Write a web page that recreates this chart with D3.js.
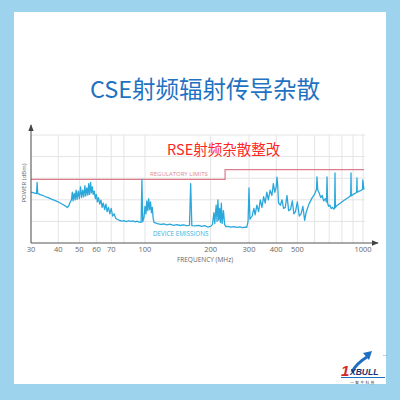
<!DOCTYPE html>
<html>
<head>
<meta charset="utf-8">
<script src="https://cdn.jsdelivr.net/npm/d3@7"></script>
<style>
  body { margin: 0; background: #9ed3ee; }
  svg { display: block; }
</style>
</head>
<body>
<script>
// emission trace: frequency (MHz) / power (dBm)
const emFreq = [30, 31, 31.8, 32, 32.2, 33, 34, 35, 36, 37, 38, 39, 40, 41, 42, 43, 44, 44.6, 45.2,
  46, 46.4, 46.8, 47.3, 47.8, 48.3, 48.8, 49.4, 50, 50.6, 51.2, 51.8, 52.4, 53, 53.5, 54.1, 54.7, 55.2, 55.7, 56.3, 56.8, 57.3, 57.9, 58.5,
  59.2, 59.8, 60.5, 61.2, 62, 62.8, 63.6, 64.4, 65.3, 66.2, 67, 68, 69, 70, 71, 72.2, 73.4, 74.6,
  76, 78, 80, 82, 84, 86, 88, 90, 92, 94, 96, 96.8, 97.6,
  99, 100, 101, 102, 103, 104, 105, 106, 107, 108, 109, 110,
  114, 118, 122, 126, 130, 135, 140, 145, 150, 155, 160, 162, 164, 170, 176, 182, 188, 194,
  200, 204, 207, 209, 212, 214, 216, 218, 220, 222, 224, 226, 229, 232, 235,
  240, 248, 256, 264, 272, 280, 288, 293,
  297, 300, 303, 310, 316, 320, 326, 332, 338, 344, 350, 356, 362, 368, 375, 382, 388, 394, 400, 403, 406,
  410, 418, 425, 432, 440, 448, 456, 465, 474, 482, 490, 500, 510, 520, 530, 540, 548,
  556, 565, 575, 585, 595, 605, 612, 615, 620,
  630, 640, 650, 660, 672, 680, 684, 688, 695, 705, 715, 725, 735, 741, 744, 747,
  760, 780, 800, 820, 840, 860, 878, 881, 884, 900, 920, 935, 938, 941, 960, 980, 995, 998, 1010];
const emPower = [-76.4, -76.8, -77.2, -72.0, -77.0, -77.6, -78.0, -78.6, -79.0, -79.6, -80.0, -80.5, -81.0, -81.6, -82.2, -82.8, -83.6, -83.0, -81.5,
  -80.0, -76.5, -80.5, -77.0, -80.0, -75.5, -79.8, -76.0, -79.5, -74.0, -79.0, -75.5, -78.6, -73.5, -78.2, -74.5, -77.8, -72.5, -77.5, -72.0, -76.8, -74.0, -77.5, -76.0,
  -79.5, -77.5, -81.0, -79.0, -82.0, -80.2, -83.5, -81.5, -84.5, -82.0, -85.5, -83.5, -86.5, -84.0, -87.5, -86.5, -88.5, -89.0,
  -89.4, -89.9, -89.6, -90.1, -89.7, -90.0, -89.8, -90.2, -89.9, -90.3, -90.4, -70.5, -90.2,
  -88.0, -83.0, -86.5, -80.5, -85.0, -79.5, -84.5, -81.0, -86.0, -83.5, -88.5, -90.5,
  -91.0, -91.4, -91.2, -91.6, -91.3, -91.8, -91.5, -91.9, -91.6, -92.0, -91.8, -72.5, -92.0, -92.1, -91.8, -92.3, -92.0, -92.6,
  -92.3, -91.5, -86.0, -91.0, -82.5, -90.0, -80.0, -89.5, -84.0, -90.5, -81.5, -91.0, -85.0, -91.5, -92.4,
  -92.3, -92.7, -92.4, -92.8, -92.5, -92.9, -92.6, -92.8,
  -90.0, -74.5, -89.0, -87.5, -84.0, -87.0, -82.5, -85.5, -80.0, -83.5, -78.5, -81.5, -76.5, -80.0, -75.5, -78.0, -72.5, -76.5, -74.0, -69.5, -73.0,
  -81.5, -82.5, -80.0, -84.0, -83.5, -78.0, -85.0, -84.5, -80.5, -86.5, -85.5, -81.0, -87.5, -86.5, -83.0, -89.5, -86.0,
  -84.0, -82.0, -80.5, -79.0, -78.0, -76.5, -75.0, -69.4, -75.5,
  -77.0, -79.0, -78.0, -80.5, -79.5, -81.0, -69.4, -81.5, -83.0, -82.5, -84.0, -83.5, -84.3, -83.8, -67.6, -83.6,
  -82.6, -81.8, -81.0, -80.2, -79.5, -78.8, -78.0, -67.6, -78.2, -77.5, -77.0, -76.6, -69.9, -76.5, -76.0, -75.6, -75.2, -70.8, -75.3, -74.8];

// regulatory limit (step)
const limFreq = [30, 233, 233, 1010];
const limPower = [-70.5, -70.5, -66, -66];

const xTicks = [30, 40, 50, 60, 70, 100, 200, 300, 400, 500, 1000];
const xGrid = [30, 40, 50, 60, 70, 80, 100, 200, 300, 400, 500, 600, 700, 800, 900, 1000];
const yGrid = [-90, -80, -70, -60, -50];

const W = 400, H = 400;
const svg = d3.select('body').append('svg').attr('width', W).attr('height', H);

// white card
svg.append('rect').attr('x', 14).attr('y', 12).attr('width', 372).attr('height', 372).attr('fill', '#fff');

svg.append('text')
  .attr('x', 205).attr('y', 98)
  .attr('text-anchor', 'middle')
  .attr('font-family', '"Noto Sans CJK SC", "Open Sans", sans-serif')
  .attr('font-size', 23.5)
  .attr('fill', '#1f72c2')
  .text('CSE射频辐射传导杂散');

const x = d3.scaleLog().domain([30, 1000]).range([31, 363]);
const y = d3.scaleLinear().domain([-100, -50]).range([243, 135]);

// grid
svg.append('g').selectAll('line').data(xGrid).enter().append('line')
  .attr('x1', d => x(d)).attr('x2', d => x(d))
  .attr('y1', 135).attr('y2', 243)
  .attr('stroke', '#e4e4e4').attr('stroke-width', 1);
svg.append('g').selectAll('line').data(yGrid).enter().append('line')
  .attr('x1', 31).attr('x2', 365)
  .attr('y1', d => y(d)).attr('y2', d => y(d))
  .attr('stroke', '#e4e4e4').attr('stroke-width', 1);

// limit line
const limLine = d3.line().x(d => x(d[0])).y(d => y(d[1]));
svg.append('path')
  .attr('d', limLine(d3.zip(limFreq, limPower)))
  .attr('fill', 'none').attr('stroke', '#dd7d8c').attr('stroke-width', 1.2);

// emissions
const emLine = d3.line().x(d => x(d[0])).y(d => y(d[1]));
svg.append('path')
  .attr('d', emLine(d3.zip(emFreq, emPower)))
  .attr('fill', 'none').attr('stroke', '#2aa8dc').attr('stroke-width', 1.3)
  .attr('stroke-linejoin', 'round');

// axes with arrows
svg.append('defs').append('marker')
  .attr('id', 'arr').attr('viewBox', '0 0 10 10').attr('refX', 9).attr('refY', 5)
  .attr('markerWidth', 7).attr('markerHeight', 7).attr('orient', 'auto')
  .append('path').attr('d', 'M0,1 L10,5 L0,9 Z').attr('fill', '#444');
svg.append('line').attr('x1', 31).attr('y1', 243).attr('x2', 31).attr('y2', 125)
  .attr('stroke', '#555').attr('stroke-width', 1).attr('marker-end', 'url(#arr)');
svg.append('line').attr('x1', 31).attr('y1', 243).attr('x2', 378).attr('y2', 243)
  .attr('stroke', '#555').attr('stroke-width', 1).attr('marker-end', 'url(#arr)');

const font = '"Open Sans", "Noto Sans", sans-serif';
svg.append('g').selectAll('text').data(xTicks).enter().append('text')
  .attr('x', d => x(d)).attr('y', 252)
  .attr('text-anchor', 'middle')
  .attr('font-family', font).attr('font-size', 7.5).attr('fill', '#666')
  .text(d => d);

svg.append('text').attr('x', 205).attr('y', 262).attr('text-anchor', 'middle')
  .attr('font-family', font).attr('font-size', 6.5).attr('fill', '#666')
  .text('FREQUENCY (MHz)');
svg.append('text').attr('transform', 'translate(26,183) rotate(-90)').attr('text-anchor', 'middle')
  .attr('font-family', font).attr('font-size', 6).attr('fill', '#666')
  .text('POWER (dBm)');

svg.append('text').attr('x', 150).attr('y', 176)
  .attr('font-family', font).attr('font-size', 6).attr('fill', '#d98a96')
  .text('REGULATORY LIMITS');
svg.append('text').attr('x', 153).attr('y', 236)
  .attr('font-family', font).attr('font-size', 6.3).attr('fill', '#3cb0da')
  .text('DEVICE EMISSIONS');

svg.append('text').attr('x', 167).attr('y', 155)
  .attr('font-family', '"Noto Sans CJK SC", sans-serif').attr('font-size', 14.5).attr('fill', '#ff2626')
  .text('RSE射频杂散整改');

// logo
const logo = svg.append('g');
logo.append('path').attr('d', 'M352,372 C356,364 362,360 367,357')
  .attr('fill', 'none').attr('stroke', '#1e6fc0').attr('stroke-width', 3);
logo.append('path').attr('d', 'M363,353 L372,351 L369,360 Z').attr('fill', '#1e6fc0');
logo.append('text').attr('x', 341).attr('y', 376)
  .attr('font-family', '"Liberation Sans", sans-serif').attr('font-weight', 'bold').attr('font-style', 'italic')
  .attr('font-size', 15).attr('fill', '#d8252a').text('1');
logo.append('text').attr('x', 350).attr('y', 375)
  .attr('font-family', '"Liberation Sans", sans-serif').attr('font-weight', 'bold').attr('font-style', 'italic')
  .attr('font-size', 8.5).attr('fill', '#1d2f6b').text('XBULL');
logo.append('line').attr('x1', 341).attr('x2', 385).attr('y1', 377.5).attr('y2', 377.5)
  .attr('stroke', '#1e6fc0').attr('stroke-width', 1);
logo.append('text').attr('x', 363).attr('y', 383.5).attr('text-anchor', 'middle')
  .attr('font-family', '"Noto Sans CJK SC", sans-serif').attr('font-size', 3.6).attr('fill', '#333')
  .attr('letter-spacing', 1.5).text('一智牛科技');
logo.append('text').attr('x', 383).attr('y', 356)
  .attr('font-family', font).attr('font-size', 2.5).attr('fill', '#555').text('TM');
</script>
</body>
</html>
